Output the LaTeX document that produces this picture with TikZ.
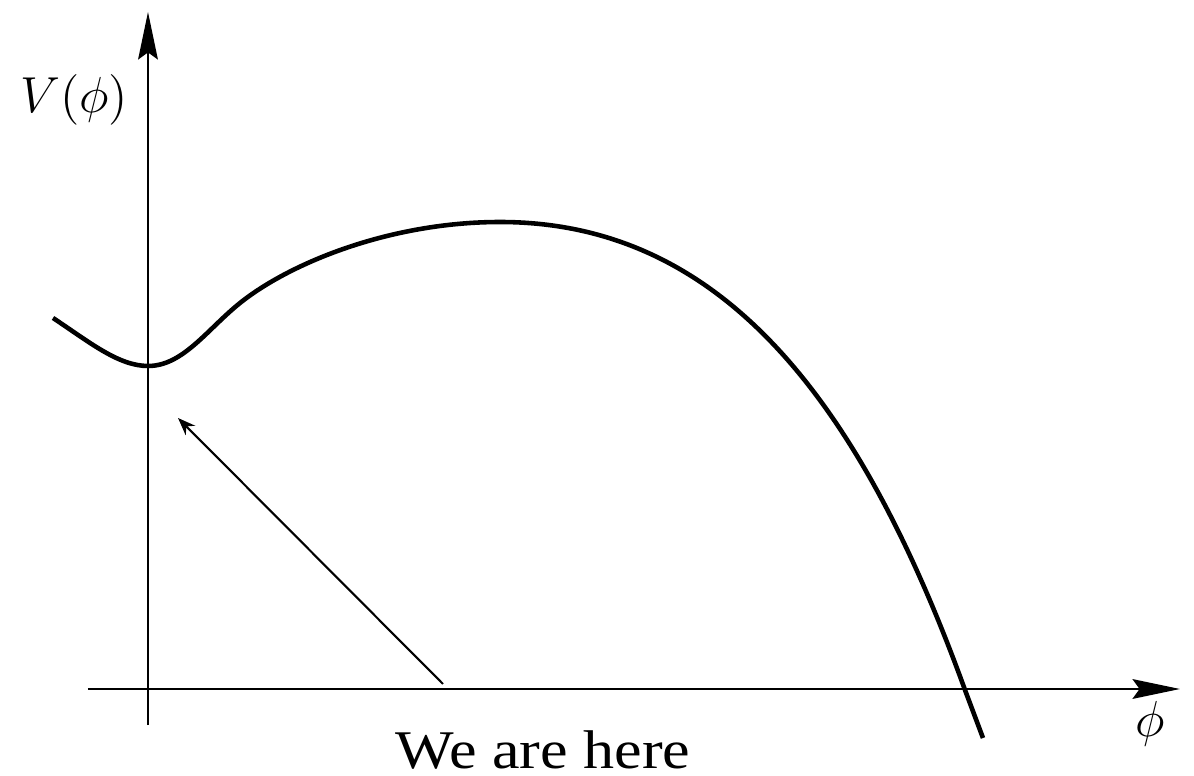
\documentclass[tikz,border=0pt]{standalone}
\usepackage{fontspec}
\newfontfamily\herefont{Liberation Serif}
\usetikzlibrary{positioning, arrows.meta}

\begin{document}
\begin{tikzpicture}[>=stealth, font=\fontsize{15.5}{18}\selectfont]

    % Rahmen (Bildgröße festlegen)
    \useasboundingbox (-1.48,-0.87) rectangle (10.46,6.89);

    % Stile
    \tikzset{
        axis/.style={line width=0.7pt, -{Stealth[length=13.5pt, width=5.6pt, inset=2pt]}},
        potential/.style={line width=1.3pt, line join=round},
        pointer/.style={line width=0.6pt, -{Stealth[length=5pt, width=3.8pt]}}
    }

    % Achsenpunkte
    \coordinate (ybot)   at (0,-0.36);
    \coordinate (ytop)   at (0,6.77);
    \coordinate (xleft)  at (-0.60,0);
    \coordinate (xright) at (10.32,0);

    % --- Achsen ---
    \draw[axis] (xleft) -- (xright);
    \draw[axis] (ybot) -- (ytop);

    % Beschriftung der Achsen
    \node (vlabel)   at (-0.74,5.89) {$V(\phi)$};
    \node (philabel) at (10.02,-0.35) {$\phi$};

    % --- Potential ---
    \draw[potential] (-0.95,3.71)
        .. controls (-0.6,3.48) and (-0.3,3.23) .. (0,3.23)      % Minimum
        .. controls (0.35,3.23) and (0.59,3.595) .. (0.92,3.86)
        .. controls (1.42,4.26) and (2.42,4.67) .. (3.52,4.67)   % Maximum
        .. controls (5.7,4.67) and (7.1,2.95) .. (8.17,-0.01)    % Nullstelle
        -- (8.35,-0.49);

    % --- Hinweis ---
    \node[anchor=base, font=\herefont\fontsize{15.5}{18}\selectfont, xscale=1.14] (here) at (3.95,-0.79) {We are here};
    \coordinate (herestart) at (2.95,0.05);
    \coordinate (heretip)   at (0.30,2.71);
    \draw[pointer] (herestart) -- (heretip);

\end{tikzpicture}
\end{document}
